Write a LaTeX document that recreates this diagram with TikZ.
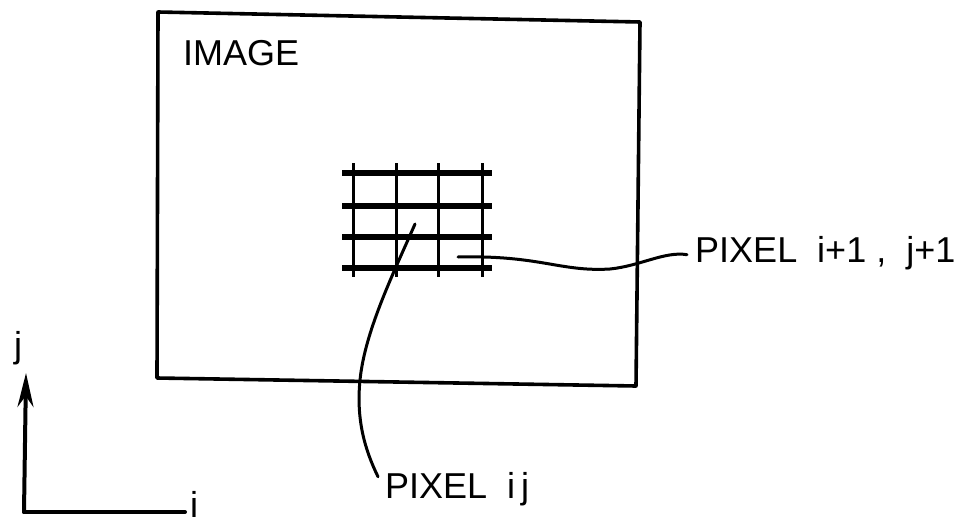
\documentclass[tikz,border=0pt]{standalone}
\usepackage{fontspec}
\newfontfamily\lettering{Liberation Sans}
\usepackage{tikz}
\usetikzlibrary{arrows.meta,positioning}
\tikzset{
  lbl/.style={font=\lettering\fontsize{36}{40}\selectfont,inner sep=0pt,anchor=base west},
  frame/.style={line width=3.6pt,line join=round},
  hrule/.style={line width=5.5pt},
  vrule/.style={line width=3pt},
  leader/.style={line width=3pt,line cap=round},
  axis/.style={line width=4pt,line cap=round}
}
\begin{document}
\begin{tikzpicture}[x=1pt,y=-1pt]
  \useasboundingbox (0,0) rectangle (975,525);

  % Image frame
  \draw[frame] (158,12) -- (640,22) -- (636,386) -- (157,378) -- cycle;
  \node[lbl] (title) at (183,65) {IMAGE};

  % Pixel grid
  \foreach \gy in {173,206,237,268}
    \draw[hrule] (342,\gy) -- (492,\gy);
  \foreach \gx in {353,396,438,482}
    \draw[vrule] (\gx,163) -- (\gx,277);

  % Labels and leaders
  \coordinate (cellB) at (458,257);
  \coordinate (cellA) at (415,224);
  \node[lbl] (lblB) at (695,262) {PIXEL\ \ i+1 ,\ \ j+1};
  \node[lbl] (lblA) at (385,498) {PIXEL\ \ i\,j};
  \draw[leader] (cellB) .. controls (540,255) and (560,272) .. (610,269)
    .. controls (640,266) and (665,251) .. ([xshift=-8pt,yshift=-2pt]lblB.west);
  \draw[leader] (cellA) .. controls (395,270) and (365,330) .. (360,380)
    .. controls (356,420) and (365,450) .. ([shift={(-7pt,-5pt)}]lblA.north west);

  % Axes
  \coordinate (origin) at (24,512);
  \coordinate (jend) at (26,373);
  \coordinate (iend) at (185,512);
  \draw[axis,-{Stealth[length=34pt,width=16pt]}] (origin) -- (jend);
  \draw[axis] (origin) -- (iend);
  \node[lbl,anchor=base] (jlbl) at (18,357) {j};
  \node[lbl,anchor=base] (ilbl) at (194,517) {i};
\end{tikzpicture}
\end{document}
